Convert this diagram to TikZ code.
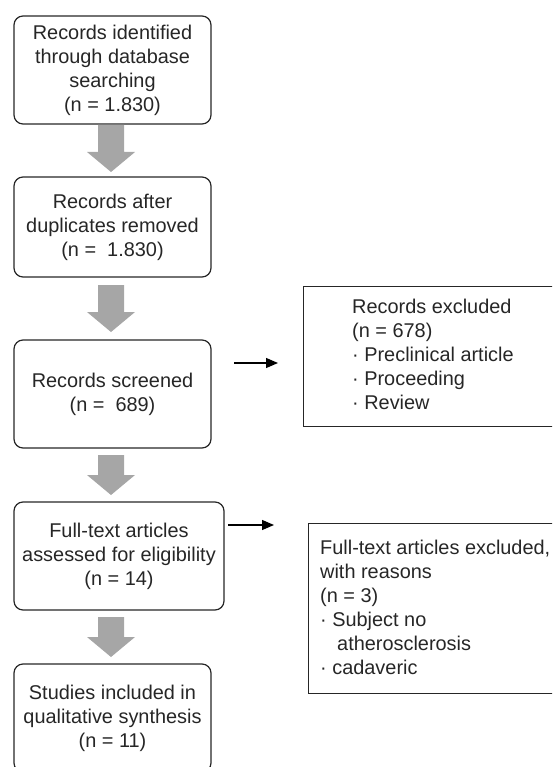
\documentclass[tikz,border=0pt]{standalone}
\usepackage{fontspec}
\setmainfont{Liberation Sans}
\usetikzlibrary{arrows.meta}
\definecolor{txtc}{HTML}{262626}
\definecolor{arrc}{HTML}{A6A6A6}
\begin{document}
\begin{tikzpicture}[x=1pt,y=-1pt,
  every node/.style={font=\fontsize{19.9}{24}\selectfont, text=txtc},
  rbox/.style={draw=txtc, line width=1.2pt, rounded corners=9pt, align=center, inner sep=0pt},
  xbox/.style={draw=txtc, line width=1.2pt, inner sep=0pt, anchor=north west},
  ltext/.style={align=left, anchor=west, inner sep=0pt},
  blk/.style={-{Triangle[length=12pt,width=10pt]}, line width=1.2pt, draw=black},
  pics/garrow/.style={code={\fill[arrc] (-13,0) -- (13,0) -- (13,#1) -- (24,#1) -- (0,#1+20) -- (-24,#1) -- (-13,#1) -- cycle;}}
]
\path[use as bounding box, clip] (0,0) rectangle (552,767);

% main column
\node[rbox, minimum width=197pt, minimum height=108pt] (b1) at (112.5,70) {Records identified\\through database\\searching\\(n = 1.830)};
\node[rbox, minimum width=197pt, minimum height=100pt] (b2) at (112.5,227) {Records after\\duplicates removed\\(n =~~1.830)};
\node[rbox, minimum width=197pt, minimum height=108pt] (b3) at (112.5,394) {Records screened\\(n =~~689)};
\node[rbox, minimum width=210pt, minimum height=108pt] (b4) at (119,556) {Full-text articles\\assessed for eligibility\\(n = 14)};
\node[rbox, minimum width=197pt, minimum height=108pt] (b5) at (112.5,718) {Studies included in\\qualitative synthesis\\(n = 11)};

% exclusion boxes
\node[xbox, minimum width=280pt, minimum height=140pt] (x1) at (303,286) {};
\node[ltext] (x1t) at (352,354.5) {Records excluded\\(n = 678)\\· Preclinical article\\· Proceeding\\· Review};
\node[xbox, minimum width=280pt, minimum height=170pt] (x2) at (308,523) {};
\node[ltext] (x2t) at (320,607) {Full-text articles excluded,\\with reasons\\(n = 3)\\· Subject no\\\hspace*{17pt}atherosclerosis\\· cadaveric};

% gray block arrows
\pic at (111,125) {garrow=27};
\pic at (111,285) {garrow=27};
\pic at (111,455) {garrow=20};
\pic at (111,617) {garrow=20};

% black side arrows
\coordinate (a1s) at (234,363);
\coordinate (a1e) at (278,363);
\draw[blk] (a1s) -- (a1e);
\coordinate (a2s) at (228,525);
\coordinate (a2e) at (274,525);
\draw[blk] (a2s) -- (a2e);
\end{tikzpicture}
\end{document}
